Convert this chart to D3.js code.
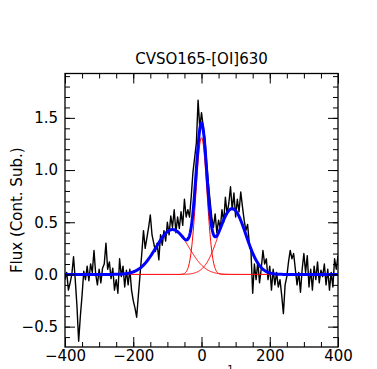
<!DOCTYPE html>
<html><head><meta charset="utf-8">
<script src="https://cdn.jsdelivr.net/npm/d3@7"></script>
<style>
html,body{margin:0;padding:0;background:#fff;}
svg{display:block;font-family:"DejaVu Sans",sans-serif;}
</style></head>
<body>
<svg id="chart" width="377" height="369"></svg>
<script>
// ---- data ----
const title = "CVSO165-[OI]630";
const yLabel = "Flux (Cont. Sub.)";
const velStart = -400, velStep = 5;
const flux = [
 -0.05,0.02,-0.15,-0.08,0.00,0.17,-0.05,-0.30,-0.64,-0.40,
 -0.20,0.03,-0.05,0.08,-0.06,0.10,0.02,0.23,0.00,-0.10,
 0.05,-0.08,0.06,0.10,0.30,0.05,0.12,-0.04,0.06,-0.15,
 -0.05,-0.18,0.15,-0.02,0.08,-0.12,0.04,-0.10,0.05,-0.15,
 -0.25,-0.32,-0.41,-0.20,0.00,0.20,0.42,0.25,0.35,0.45,
 0.57,0.38,0.30,0.22,0.30,0.14,0.38,0.28,0.42,0.32,
 0.50,0.38,0.56,0.45,0.62,0.40,0.55,0.44,0.60,0.47,
 0.72,0.55,0.62,0.55,0.75,0.98,1.12,1.26,1.67,1.40,
 1.55,1.42,1.30,1.07,0.88,0.71,0.55,0.45,0.58,0.40,
 0.52,0.44,0.62,0.50,0.74,0.58,0.68,0.84,0.62,0.78,
 0.55,0.72,0.60,0.79,0.65,0.52,0.42,0.48,0.30,0.22,
 -0.18,0.10,-0.05,0.12,-0.08,0.05,0.23,0.10,0.15,-0.05,
 0.08,-0.15,0.05,-0.10,0.02,-0.12,-0.05,-0.20,-0.375,-0.10,
 -0.02,0.12,0.23,0.15,0.20,0.05,-0.10,0.02,-0.17,0.05,
 0.20,0.02,0.18,-0.12,0.05,-0.15,0.08,-0.05,0.12,-0.08,
 0.04,-0.02,0.10,-0.10,0.05,-0.15,0.02,-0.12,0.15,0.05,
 0.18
];
// Gaussian fit components
const compAmp = [0.43, 1.31, 0.63];
const compCenter = [-85, 0, 90];
const compSigma = [48, 16, 40];
const xTicks = [-400, -200, 0, 200, 400];
const yTicks = [-0.5, 0.0, 0.5, 1.0, 1.5];
const xMinor = d3.range(-400, 401, 50);
const yMinor = d3.range(-6, 20, 1).map(d => d / 10);

// ---- layout ----
const L = 65, R = 338, T = 73.5, B = 347;
const x = d3.scaleLinear().domain([-400, 400]).range([L, R]);
const y = d3.scaleLinear().domain([-0.695, 1.925]).range([B, T]);
const svg = d3.select("#chart");

const spec = flux.map((f, i) => ({v: velStart + i * velStep, f}));
const grid = d3.range(-400, 400.5, 1);
const gauss = (v, k) => compAmp[k] * Math.exp(-((v - compCenter[k]) ** 2) / (2 * compSigma[k] ** 2));

svg.append("clipPath").attr("id", "clip").append("rect")
  .attr("x", L).attr("y", T).attr("width", R - L).attr("height", B - T);
const plot = svg.append("g").attr("clip-path", "url(#clip)");

const line = d3.line().x(d => x(d[0])).y(d => y(d[1]));
plot.append("path").datum(spec.map(d => [d.v, d.f]))
  .attr("d", line).attr("fill", "none").attr("stroke", "#000").attr("stroke-width", 1.4)
  .attr("stroke-linejoin", "round");
compAmp.forEach((a, k) => {
  plot.append("path").datum(grid.map(v => [v, gauss(v, k)]))
    .attr("d", line).attr("fill", "none").attr("stroke", "#ff0000").attr("stroke-width", 1);
});
plot.append("path").datum(grid.map(v => [v, compAmp.reduce((s, _, k) => s + gauss(v, k), 0)]))
  .attr("d", line).attr("fill", "none").attr("stroke", "#0000ff").attr("stroke-width", 3)
  .attr("stroke-linejoin", "round");

// ---- axes ----
const fmtY = d => (d < 0 ? "\u2212" : "") + Math.abs(d).toFixed(1);
const fmtX = d => (d < 0 ? "\u2212" : "") + Math.abs(d);
function styleAxis(g) {
  g.select(".domain").remove();
  g.selectAll("line").attr("stroke", "#000").attr("stroke-width", 1);
  g.selectAll("text").attr("fill", "#000").style("font-size", "15px").style("font-family", "DejaVu Sans");
}
svg.append("g").attr("transform", `translate(0,${B})`)
  .call(d3.axisBottom(x).tickValues(xMinor).tickSize(-5).tickFormat("")).call(styleAxis);
svg.append("g").attr("transform", `translate(0,${B})`)
  .call(d3.axisBottom(x).tickValues(xTicks).tickSize(-10).tickPadding(3).tickFormat(fmtX)).call(styleAxis);
svg.append("g").attr("transform", `translate(0,${T})`)
  .call(d3.axisTop(x).tickValues(xMinor).tickSize(-5).tickFormat("")).call(styleAxis);
svg.append("g").attr("transform", `translate(0,${T})`)
  .call(d3.axisTop(x).tickValues(xTicks).tickSize(-10).tickFormat("")).call(styleAxis);
svg.append("g").attr("transform", `translate(${L},0)`)
  .call(d3.axisLeft(y).tickValues(yMinor).tickSize(-5).tickFormat("")).call(styleAxis);
svg.append("g").attr("transform", `translate(${L},0)`)
  .call(d3.axisLeft(y).tickValues(yTicks).tickSize(-10).tickPadding(7).tickFormat(fmtY)).call(styleAxis);
svg.append("g").attr("transform", `translate(${R},0)`)
  .call(d3.axisRight(y).tickValues(yMinor).tickSize(-5).tickFormat("")).call(styleAxis);
svg.append("g").attr("transform", `translate(${R},0)`)
  .call(d3.axisRight(y).tickValues(yTicks).tickSize(-10).tickFormat("")).call(styleAxis);

svg.append("rect").attr("x", L).attr("y", T).attr("width", R - L).attr("height", B - T)
  .attr("fill", "none").attr("stroke", "#000").attr("stroke-width", 1.3);

// ---- labels ----
svg.append("text").attr("x", (L + R) / 2).attr("y", 63.5).attr("text-anchor", "middle")
  .style("font-size", "15px").text(title);
svg.append("text").attr("transform", `translate(22,${(T + B) / 2}) rotate(-90)`)
  .attr("text-anchor", "middle").style("font-size", "15px").text(yLabel);
const xl = svg.append("text").attr("x", (L + R) / 2).attr("y", 383).attr("text-anchor", "middle")
  .style("font-size", "15px");
xl.append("tspan").text("v (km s");
xl.append("tspan").attr("dy", -10).style("font-size", "10px").text("\u22121");
xl.append("tspan").attr("dy", 10).text(")");
</script>
</body></html>
